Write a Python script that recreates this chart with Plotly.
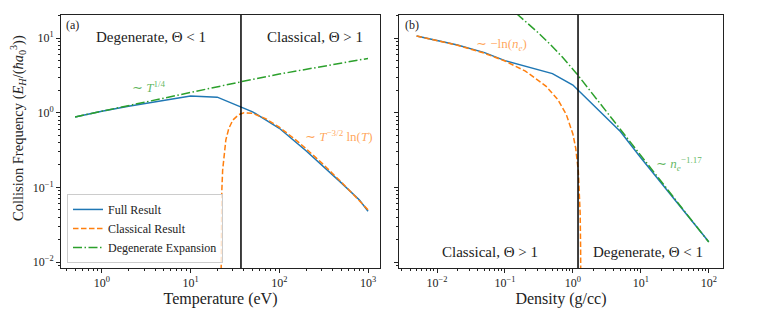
import plotly.graph_objects as go

# ---------------- data ----------------
# Panel (a): collision frequency vs temperature
temp_full = [0.5, 1, 2, 5, 10, 20, 50, 100, 200, 500, 800, 1000]
freq_full_T = [0.88, 1.05, 1.22, 1.48, 1.68, 1.62, 1.03, 0.62, 0.31, 0.115, 0.068, 0.048]

temp_class = [22.02, 22.1, 22.2, 22.5, 23, 24, 25, 27, 30, 35, 40, 50, 70, 100, 150, 200, 300, 500, 700, 1000]
freq_class_T = [0.0037, 0.018, 0.036, 0.089, 0.171, 0.313, 0.433, 0.618, 0.80, 0.948, 0.999, 0.982,
                0.836, 0.64, 0.442, 0.33, 0.213, 0.118, 0.079, 0.050]

temp_degen = [0.5, 1, 10, 37, 100, 1000]
freq_degen_T = [0.88, 1.05, 1.86, 2.6, 3.3, 5.35]

theta_boundary_T = 37.0  # eV

# Panel (b): collision frequency vs density
dens_full = [0.005, 0.01, 0.02, 0.05, 0.1, 0.5, 1.0, 5.0, 10, 100]
freq_full_n = [10.7, 9.4, 8.1, 6.4, 5.0, 3.35, 2.35, 0.56, 0.25, 0.0187]

dens_class = [0.005, 0.01, 0.02, 0.05, 0.1, 0.2, 0.4, 0.6, 0.8, 1.0, 1.1, 1.2, 1.25, 1.28, 1.3, 1.308]
freq_class_n = [10.7, 9.36, 8.03, 6.27, 4.94, 3.61, 2.28, 1.50, 0.947, 0.519, 0.335, 0.168, 0.09,
                0.0445, 0.0147, 0.0029]

dens_degen = [0.1, 0.149, 0.2, 0.3, 0.46, 0.7, 1.13, 2.5, 5.5, 13.6, 30, 100]
freq_degen_n = [29.2, 21.4, 16.9, 12.1, 8.31, 5.57, 3.37, 1.34, 0.53, 0.189, 0.074, 0.0185]

theta_boundary_n = 1.19  # g/cc

# tick labels
x_a_ticks = [1, 10, 100, 1000]
x_a_labels = ["10<sup>0</sup>", "10<sup>1</sup>", "10<sup>2</sup>", "10<sup>3</sup>"]
x_b_ticks = [0.01, 0.1, 1, 10, 100]
x_b_labels = ["10<sup>−2</sup>", "10<sup>−1</sup>", "10<sup>0</sup>", "10<sup>1</sup>", "10<sup>2</sup>"]
y_ticks = [0.01, 0.1, 1, 10]
y_labels = ["10<sup>−2</sup>", "10<sup>−1</sup>", "10<sup>0</sup>", "10<sup>1</sup>"]

# ---------------- styling ----------------
BLUE = "#1f77b4"
ORANGE = "#ff7f0e"
GREEN = "#2ca02c"
FONT = "Liberation Serif"
DASH = "5.5px,2.5px"
DASHDOT = "9px,2.5px,1.5px,2.5px"


def minor_vals(lo_exp, hi_exp):
    return [m * 10 ** e for e in range(lo_exp, hi_exp + 1) for m in range(2, 10)]


fig = go.Figure()

# Panel (a)
fig.add_trace(go.Scatter(x=temp_full, y=freq_full_T, mode="lines", name="Full Result",
                         line=dict(color=BLUE, width=1.5), xaxis="x", yaxis="y"))
fig.add_trace(go.Scatter(x=temp_class, y=freq_class_T, mode="lines", name="Classical Result",
                         line=dict(color=ORANGE, width=1.5, dash=DASH), xaxis="x", yaxis="y"))
fig.add_trace(go.Scatter(x=temp_degen, y=freq_degen_T, mode="lines", name="Degenerate Expansion",
                         line=dict(color=GREEN, width=1.5, dash=DASHDOT), xaxis="x", yaxis="y"))
fig.add_trace(go.Scatter(x=[theta_boundary_T, theta_boundary_T], y=[1e-4, 1e3], mode="lines",
                         line=dict(color="black", width=1.5), showlegend=False, xaxis="x", yaxis="y"))

# Panel (b)
fig.add_trace(go.Scatter(x=dens_full, y=freq_full_n, mode="lines", showlegend=False,
                         line=dict(color=BLUE, width=1.5), xaxis="x2", yaxis="y2"))
fig.add_trace(go.Scatter(x=dens_class, y=freq_class_n, mode="lines", showlegend=False,
                         line=dict(color=ORANGE, width=1.5, dash=DASH), xaxis="x2", yaxis="y2"))
fig.add_trace(go.Scatter(x=dens_degen, y=freq_degen_n, mode="lines", showlegend=False,
                         line=dict(color=GREEN, width=1.5, dash=DASHDOT), xaxis="x2", yaxis="y2"))
fig.add_trace(go.Scatter(x=[theta_boundary_n, theta_boundary_n], y=[1e-4, 1e3], mode="lines",
                         line=dict(color="black", width=1.5), showlegend=False, xaxis="x2", yaxis="y2"))

W, H = 761, 317
L_A, R_A, L_B, R_B = 61, 380, 399, 723
TOP, BOT = 15, 268
PW = R_B - L_A
PH = BOT - TOP

axis_common = dict(type="log", showline=True, linecolor="#222", linewidth=1, mirror=True,
                   ticks="outside", ticklen=4, tickwidth=1, tickcolor="#222", showgrid=False,
                   zeroline=False, automargin=False,
                   tickfont=dict(family=FONT, size=12, color="#222"))

fig.update_layout(
    width=W, height=H,
    margin=dict(l=L_A, r=W - R_B, t=TOP, b=H - BOT, autoexpand=False),
    paper_bgcolor="white", plot_bgcolor="white",
    font=dict(family=FONT, color="#222"),
    showlegend=True,
    legend=dict(x=(67 - L_A) / PW, y=0.02,
                xanchor="left", yanchor="bottom", bgcolor="rgba(255,255,255,0.8)",
                bordercolor="#cccccc", borderwidth=1, font=dict(family=FONT, size=12),
                tracegroupgap=0, itemwidth=30),
    xaxis=dict(domain=[0, (R_A - L_A) / PW], range=[-0.46, 3.135], anchor="y",
               tickvals=x_a_ticks, ticktext=x_a_labels,
               minor=dict(tickvals=minor_vals(-1, 3), ticks="outside", ticklen=2, tickcolor="#222"),
               title=dict(text="Temperature (eV)", font=dict(family=FONT, size=16), standoff=3),
               **axis_common),
    yaxis=dict(domain=[0, 1], range=[-2.08, 1.31], anchor="x",
               tickvals=y_ticks, ticktext=y_labels,
               minor=dict(tickvals=minor_vals(-3, 1), ticks="outside", ticklen=2, tickcolor="#222"),
               **axis_common),
    xaxis2=dict(domain=[(L_B - L_A) / PW, 1], range=[-2.56, 2.21], anchor="y2",
                tickvals=x_b_ticks, ticktext=x_b_labels,
                minor=dict(tickvals=minor_vals(-3, 2), ticks="outside", ticklen=2, tickcolor="#222"),
                title=dict(text="Density (g/cc)", font=dict(family=FONT, size=16), standoff=3),
                **axis_common),
    yaxis2=dict(domain=[0, 1], range=[-2.08, 1.31], anchor="x2", matches="y",
                tickvals=y_ticks, showticklabels=False,
                minor=dict(tickvals=minor_vals(-3, 1), ticks="outside", ticklen=2, tickcolor="#222"),
                **axis_common),
)

ann_font = dict(family=FONT, size=15, color="#222")
annotations = [
    dict(text="Collision Frequency (<i>E<sub>H</sub></i>/(<i>ħa</i><sub>0</sub><sup>3</sup>))",
         xref="paper", yref="paper", x=(18 - L_A) / PW, y=(BOT - 128) / PH, textangle=-90,
         font=dict(family=FONT, size=14.5, color="#222")),
    dict(text="(a)", xref="x domain", yref="y domain", x=0.01, y=0.96, xanchor="left", font=dict(family=FONT, size=12, color="#222")),
    dict(text="Degenerate, Θ < 1", xref="x domain", yref="y domain", x=0.282, y=0.913, font=ann_font),
    dict(text="Classical, Θ > 1", xref="x domain", yref="y domain", x=0.796, y=0.913, font=ann_font),
    dict(text="∼ <i>T</i><sup>1/4</sup>", xref="x domain", yref="y domain", x=0.276, y=0.715,
         font=dict(family=FONT, size=13, color="rgba(44,160,44,0.75)")),
    dict(text="∼ <i>T</i><sup>−3/2</sup> ln(<i>T</i>)", xref="x domain", yref="y domain", x=0.871, y=0.52,
         font=dict(family=FONT, size=13, color="rgba(255,127,14,0.7)")),
    dict(text="(b)", xref="x2 domain", yref="y2 domain", x=0.012, y=0.96, xanchor="left", font=dict(family=FONT, size=12, color="#222")),
    dict(text="∼ −ln(<i>n<sub>e</sub></i>)", xref="x2 domain", yref="y2 domain", x=0.315, y=0.885,
         font=dict(family=FONT, size=13, color="rgba(255,127,14,0.7)")),
    dict(text="∼ <i>n<sub>e</sub></i><sup>−1.17</sup>", xref="x2 domain", yref="y2 domain", x=0.864, y=0.41,
         font=dict(family=FONT, size=13, color="rgba(44,160,44,0.75)")),
    dict(text="Classical, Θ > 1", xref="x2 domain", yref="y2 domain", x=0.281, y=0.063, font=ann_font),
    dict(text="Degenerate, Θ < 1", xref="x2 domain", yref="y2 domain", x=0.769, y=0.063, font=ann_font),
]
for a in annotations:
    a.setdefault("showarrow", False)
    a.setdefault("xanchor", "center")
    a.setdefault("yanchor", "middle")
fig.update_layout(annotations=annotations)

fig.write_html("out.html", config={"displayModeBar": False},
               post_script="document.body.style.margin='0';")
